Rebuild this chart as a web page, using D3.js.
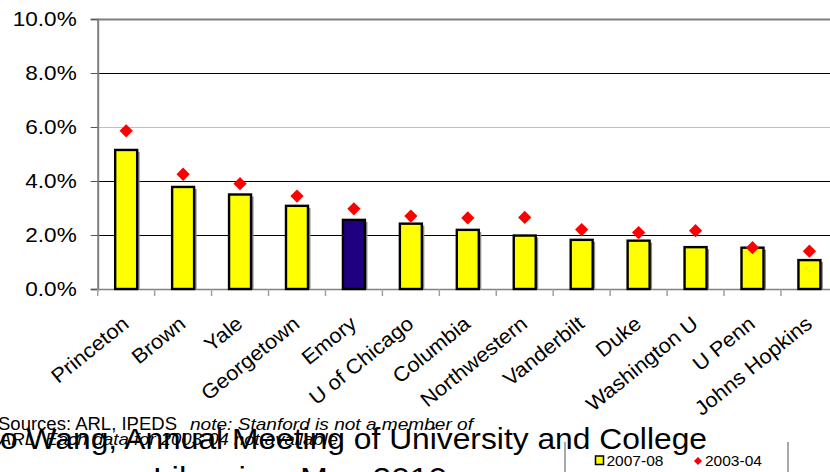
<!DOCTYPE html>
<html>
<head>
<meta charset="utf-8">
<script src="https://cdn.jsdelivr.net/npm/d3@7"></script>
<style>
  html, body { margin: 0; padding: 0; background: #fff; overflow: hidden; }
  svg { display: block; font-family: "Liberation Sans", Arial, sans-serif; }
</style>
</head>
<body>
<svg id="chart" width="830" height="472"></svg>
<script>
// ---- data ----
const categories = ["Princeton","Brown","Yale","Georgetown","Emory","U of Chicago","Columbia","Northwestern","Vanderbilt","Duke","Washington U","U Penn","Johns Hopkins"];
const values0708 = [5.15, 3.78, 3.50, 3.08, 2.56, 2.42, 2.19, 1.98, 1.82, 1.79, 1.55, 1.53, 1.07];
const values0304 = [5.86, 4.25, 3.90, 3.44, 2.97, 2.70, 2.63, 2.65, 2.20, 2.09, 2.16, 1.53, 1.40];
const highlight = "Emory";
const yTicks = [0, 2, 4, 6, 8, 10];
const seriesNames = ["2007-08", "2003-04"];
const footLine1a = "Sources: ARL, IPEDS";
const footLine1b = "note: Stanford  is not a member of";
const footLine2 = "ARL; Each data for 2003-04 not available";
const titleLine1 = "o Wang, Annual Meeting of University and College";
const titleLine2 = "Libraries, May 2010";

(function () {
// ---- layout ----
const svg = d3.select("#chart");
const mLeft = 97.7, mRight = 837.9, mTop = 19, mBottom = 289;

const x = d3.scaleBand().domain(categories).range([mLeft, mRight])
  .paddingInner(0.614).paddingOuter(0.307);
const xc = d3.scaleBand().domain(categories).range([mLeft, mRight]).padding(0);
const y = d3.scaleLinear().domain([0, 10]).range([mBottom, mTop]);

// gridlines
const gridColor = {0: "none", 2: "#000", 4: "#000", 6: "#c0c0c0", 8: "#000", 10: "#808080"};
svg.append("g").selectAll("line").data(yTicks.filter(d => d > 0)).join("line")
  .attr("x1", mLeft).attr("x2", 830)
  .attr("y1", d => Math.round(y(d)) + 0.5).attr("y2", d => Math.round(y(d)) + 0.5)
  .attr("stroke", d => gridColor[d])
  .attr("stroke-width", d => d === 10 ? 2 : 1);

// y axis
const yAxis = svg.append("g").attr("transform", `translate(${mLeft},0)`)
  .call(d3.axisLeft(y).tickValues(yTicks).tickSize(7).tickPadding(14)
    .tickFormat(d => d3.format(".1f")(d) + "%"));
yAxis.select(".domain").attr("stroke", "#808080").attr("stroke-width", 2);
yAxis.selectAll(".tick line").attr("stroke", "#555");
yAxis.selectAll(".tick text").attr("font-size", 20.5).attr("fill", "#000")
  .attr("font-family", "Liberation Sans, Arial, sans-serif")
  .each(function () {
    const w = this.getComputedTextLength();
    d3.select(this).attr("textLength", w * 1.1).attr("lengthAdjust", "spacingAndGlyphs");
  });

// x axis
const xAxis = svg.append("g").attr("transform", `translate(0,${mBottom})`)
  .call(d3.axisBottom(xc).tickSize(0).tickFormat(""));
xAxis.select(".domain").attr("stroke", "#808080").attr("stroke-width", 1.5);
// category boundary ticks
svg.append("g").selectAll("line").data(categories).join("line")
  .attr("x1", d => xc(d)).attr("x2", d => xc(d))
  .attr("y1", mBottom).attr("y2", mBottom + 7)
  .attr("stroke", "#a0a0a0").attr("stroke-width", 1.5);

// bar shadows
svg.append("g").selectAll("rect").data(categories).join("rect")
  .attr("x", d => x(d) + 2.5)
  .attr("y", (d, i) => y(values0708[i]) + 2)
  .attr("width", x.bandwidth())
  .attr("height", (d, i) => y(0) - y(values0708[i]) - 1)
  .attr("fill", "#8a8a8a");

// bars
svg.append("g").selectAll("rect").data(categories).join("rect")
  .attr("x", d => x(d))
  .attr("y", (d, i) => y(values0708[i]))
  .attr("width", x.bandwidth())
  .attr("height", (d, i) => y(0) - y(values0708[i]))
  .attr("fill", d => d === highlight ? "#1f0080" : "#ffff00")
  .attr("stroke", "#000").attr("stroke-width", 2.4);

// diamonds
const diamond = d3.symbol().type(d3.symbolSquare).size(88);
svg.append("g").selectAll("path").data(categories).join("path")
  .attr("d", diamond)
  .attr("transform", (d, i) => `translate(${xc(d) + xc.bandwidth() / 2},${y(values0304[i])}) rotate(45)`)
  .attr("fill", "#ff0000");

// category labels
svg.append("g").selectAll("text").data(categories).join("text")
  .attr("transform", d => `translate(${xc(d) + xc.bandwidth() / 2 + 4},${mBottom + 37}) rotate(-39) scale(1.07,1)`)
  .attr("text-anchor", "end")
  .attr("font-size", 20.5)
  .text(d => d);

// footnotes
svg.append("text").attr("x", -2).attr("y", 430).attr("font-size", 17.5)
  .attr("textLength", 179).attr("lengthAdjust", "spacingAndGlyphs").text(footLine1a);
svg.append("text").attr("x", 190).attr("y", 430).attr("font-size", 16.5)
  .attr("font-style", "italic")
  .attr("textLength", 283).attr("lengthAdjust", "spacingAndGlyphs").text(footLine1b);
svg.append("text").attr("x", -1).attr("y", 445).attr("font-size", 16.5)
  .attr("font-style", "italic")
  .attr("textLength", 339).attr("lengthAdjust", "spacingAndGlyphs").text(footLine2);

// title overlay
svg.append("text").attr("x", 0).attr("y", 449)
  .attr("font-size", 30)
  .attr("textLength", 707).attr("lengthAdjust", "spacingAndGlyphs").text(titleLine1);
svg.append("text").attr("x", 153).attr("y", 488).attr("font-size", 30)
  .attr("textLength", 294).attr("lengthAdjust", "spacingAndGlyphs").text(titleLine2);

// legend
const lg = svg.append("g");
lg.selectAll("line").data([565, 788]).join("line")
  .attr("x1", d => d).attr("x2", d => d).attr("y1", 442).attr("y2", 472)
  .attr("stroke", "#a8a8a8").attr("stroke-width", 2);
lg.append("rect").attr("x", 595.5).attr("y", 456).attr("width", 8).attr("height", 8.5)
  .attr("fill", "#ffff00").attr("stroke", "#000").attr("stroke-width", 1.5);
lg.append("text").attr("x", 606.5).attr("y", 466).attr("font-size", 15.5).text(seriesNames[0]);
lg.append("path").attr("d", d3.symbol().type(d3.symbolSquare).size(34))
  .attr("transform", "translate(698,461) rotate(45)").attr("fill", "#ff0000");
lg.append("text").attr("x", 705).attr("y", 466).attr("font-size", 15.5).text(seriesNames[1]);
})();
</script>
</body>
</html>
